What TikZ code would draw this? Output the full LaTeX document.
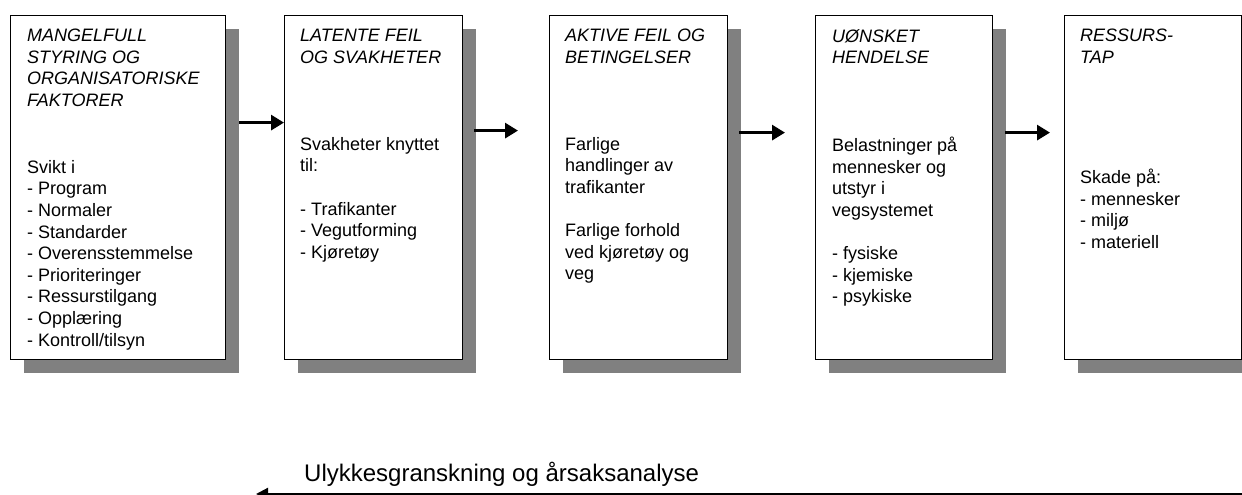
\documentclass[tikz,border=0pt]{standalone}
\usepackage{fontspec}
\setmainfont{Liberation Sans}
\usepackage{tikz}
\usetikzlibrary{arrows.meta, positioning, shadows}
\definecolor{shadowgray}{HTML}{808080}
\tikzset{>/.tip={Triangle[length=13pt,width=15pt]}}
\tikzset{stage/.style={draw, line width=1.2pt, fill=white, anchor=north west,
  minimum height=344pt, inner sep=0pt,
  general shadow={fill=shadowgray, shadow xshift=13pt, shadow yshift=-13pt}}}
% first line gets a strut, so the top of the node lies 15.12pt above its baseline
\tikzset{heading/.style={anchor=north west, align=left, inner sep=0pt,
  font=\fontsize{18}{21.6}\selectfont\itshape, execute at begin node=\strut}}
\tikzset{bodytext/.style={anchor=north west, align=left, inner sep=0pt,
  font=\fontsize{18}{21.6}\selectfont, execute at begin node=\strut}}
\tikzset{flow/.style={->, line width=3pt}}

\begin{document}
\begin{tikzpicture}[x=1pt,y=-1pt]
\useasboundingbox (0,0) rectangle (1242,495);

% the five stages
\node[stage, minimum width=215pt] (b1) at (10,15) {};
\node[stage, minimum width=178pt] (b2) at (284,15) {};
\node[stage, minimum width=178pt] (b3) at (549,15) {};
\node[stage, minimum width=177pt] (b4) at (815,15) {};
\node[stage, minimum width=177pt] (b5) at (1064,15) {};

\node[heading] (t1) at ([xshift=17pt,yshift=-14pt]b1.north west)
 {MANGELFULL\\STYRING OG\\ORGANISATORISKE\\FAKTORER};
\node[bodytext] (s1) at ([xshift=17pt,yshift=-145pt]b1.north west)
 {Svikt i\\- Program\\- Normaler\\- Standarder\\- Overensstemmelse\\- Prioriteringer\\- Ressurstilgang\\- Opplæring\\- Kontroll/tilsyn};

\node[heading] (t2) at ([xshift=16pt,yshift=-14pt]b2.north west)
 {LATENTE FEIL\\OG SVAKHETER};
\node[bodytext] (s2) at ([xshift=16pt,yshift=-122pt]b2.north west)
 {Svakheter knyttet\\til:\\[21.6pt]- Trafikanter\\- Vegutforming\\- Kjøretøy};

\node[heading] (t3) at ([xshift=16pt,yshift=-14pt]b3.north west)
 {AKTIVE FEIL OG\\BETINGELSER};
\node[bodytext] (s3) at ([xshift=16pt,yshift=-122pt]b3.north west)
 {Farlige\\handlinger av\\trafikanter\\[21.6pt]Farlige forhold\\ved kjøretøy og\\veg};

\node[heading] (t4) at ([xshift=17pt,yshift=-14pt]b4.north west)
 {UØNSKET\\HENDELSE};
\node[bodytext] (s4) at ([xshift=17pt,yshift=-122pt]b4.north west)
 {Belastninger på\\mennesker og\\utstyr i\\vegsystemet\\[21.6pt]- fysiske\\- kjemiske\\- psykiske};

\node[heading] (t5) at ([xshift=16pt,yshift=-14pt]b5.north west)
 {RESSURS-\\TAP};
\node[bodytext] (s5) at ([xshift=16pt,yshift=-154pt]b5.north west)
 {Skade på:\\- mennesker\\- miljø\\- materiell};

% arrows between stages
\draw[flow, shorten <=13pt] ([yshift=65pt]b1.east) -- ([yshift=65pt]b2.west);
\draw[flow, shorten <=11pt, shorten >=31pt] ([yshift=57pt]b2.east) -- ([yshift=57pt]b3.west);
\draw[flow, shorten <=11pt, shorten >=30pt] ([yshift=55pt]b3.east) -- ([yshift=55pt]b4.west);
\draw[flow, shorten <=12pt, shorten >=14pt] ([yshift=55pt]b4.east) -- ([yshift=55pt]b5.west);

% feedback
\coordinate (fb-start) at (1260,494);
\coordinate (fb-end) at (256,494);
\draw[-{Triangle[length=12pt,width=12pt]}, line width=2.2pt] (fb-start) -- (fb-end);
\node[anchor=base west, inner sep=0pt, font=\fontsize{24}{28}\selectfont] (fb-label) at (304,481)
 {Ulykkesgranskning og årsaksanalyse};

\end{tikzpicture}
\end{document}
